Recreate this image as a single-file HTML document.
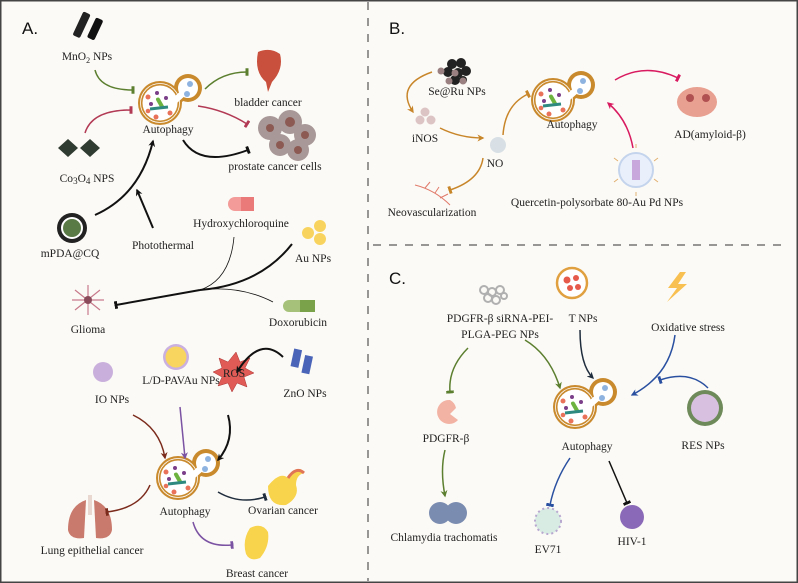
<!DOCTYPE html>
<html><head><meta charset="utf-8"><style>
html,body{margin:0;padding:0;background:#fcfaf6}
svg{display:block}
text{font-family:"Liberation Serif",serif;font-size:11.5px;fill:#222}
.lab{font-family:"Liberation Sans",sans-serif;font-size:17px;fill:#111}
</style></head><body>
<svg width="798" height="583" viewBox="0 0 798 583" xmlns="http://www.w3.org/2000/svg">
<defs>
<marker id="aK" viewBox="0 0 10 10" refX="8" refY="5" markerWidth="7" markerHeight="7" orient="auto" markerUnits="userSpaceOnUse"><path d="M0,0L10,5L0,10L3,5z" fill="#111"/></marker>
<marker id="aG" viewBox="0 0 10 10" refX="8" refY="5" markerWidth="7" markerHeight="7" orient="auto" markerUnits="userSpaceOnUse"><path d="M0,0L10,5L0,10L3,5z" fill="#5b7f2f"/></marker>
<marker id="aBr" viewBox="0 0 10 10" refX="8" refY="5" markerWidth="7" markerHeight="7" orient="auto" markerUnits="userSpaceOnUse"><path d="M0,0L10,5L0,10L3,5z" fill="#7b2b1c"/></marker>
<marker id="aP" viewBox="0 0 10 10" refX="8" refY="5" markerWidth="7" markerHeight="7" orient="auto" markerUnits="userSpaceOnUse"><path d="M0,0L10,5L0,10L3,5z" fill="#7b53a3"/></marker>
<marker id="aO" viewBox="0 0 10 10" refX="8" refY="5" markerWidth="7" markerHeight="7" orient="auto" markerUnits="userSpaceOnUse"><path d="M0,0L10,5L0,10L3,5z" fill="#c8862a"/></marker>
<marker id="aR" viewBox="0 0 10 10" refX="8" refY="5" markerWidth="7" markerHeight="7" orient="auto" markerUnits="userSpaceOnUse"><path d="M0,0L10,5L0,10L3,5z" fill="#d81b60"/></marker>
<marker id="aB" viewBox="0 0 10 10" refX="8" refY="5" markerWidth="7" markerHeight="7" orient="auto" markerUnits="userSpaceOnUse"><path d="M0,0L10,5L0,10L3,5z" fill="#2950a0"/></marker>
<marker id="aN" viewBox="0 0 10 10" refX="8" refY="5" markerWidth="7" markerHeight="7" orient="auto" markerUnits="userSpaceOnUse"><path d="M0,0L10,5L0,10L3,5z" fill="#1f2d3d"/></marker>
<marker id="tK" viewBox="0 0 4 10" refX="2" refY="5" markerWidth="3" markerHeight="9" orient="auto" markerUnits="userSpaceOnUse"><rect x="0" y="0" width="4" height="10" fill="#111"/></marker>
<marker id="tG" viewBox="0 0 4 10" refX="2" refY="5" markerWidth="3" markerHeight="9" orient="auto" markerUnits="userSpaceOnUse"><rect x="0" y="0" width="4" height="10" fill="#5b7f2f"/></marker>
<marker id="tRd" viewBox="0 0 4 10" refX="2" refY="5" markerWidth="3" markerHeight="9" orient="auto" markerUnits="userSpaceOnUse"><rect x="0" y="0" width="4" height="10" fill="#b23a55"/></marker>
<marker id="tBr" viewBox="0 0 4 10" refX="2" refY="5" markerWidth="3" markerHeight="9" orient="auto" markerUnits="userSpaceOnUse"><rect x="0" y="0" width="4" height="10" fill="#7b2b1c"/></marker>
<marker id="tP" viewBox="0 0 4 10" refX="2" refY="5" markerWidth="3" markerHeight="9" orient="auto" markerUnits="userSpaceOnUse"><rect x="0" y="0" width="4" height="10" fill="#7b53a3"/></marker>
<marker id="tN" viewBox="0 0 4 10" refX="2" refY="5" markerWidth="3" markerHeight="9" orient="auto" markerUnits="userSpaceOnUse"><rect x="0" y="0" width="4" height="10" fill="#1f2d3d"/></marker>
<marker id="tO" viewBox="0 0 4 10" refX="2" refY="5" markerWidth="3" markerHeight="9" orient="auto" markerUnits="userSpaceOnUse"><rect x="0" y="0" width="4" height="10" fill="#c8862a"/></marker>
<marker id="tR" viewBox="0 0 4 10" refX="2" refY="5" markerWidth="3" markerHeight="9" orient="auto" markerUnits="userSpaceOnUse"><rect x="0" y="0" width="4" height="10" fill="#d81b60"/></marker>
<marker id="tB" viewBox="0 0 4 10" refX="2" refY="5" markerWidth="3" markerHeight="9" orient="auto" markerUnits="userSpaceOnUse"><rect x="0" y="0" width="4" height="10" fill="#2950a0"/></marker>
<g id="ap">
  <circle cx="0" cy="0" r="22" fill="#c98a2e"/>
  <circle cx="28" cy="-15" r="14" fill="#c98a2e"/>
  <path d="M12,-8 L22,-18 L28,-6 L16,4z" fill="#c98a2e"/>
  <circle cx="0" cy="0" r="17.5" fill="#fff"/>
  <circle cx="28" cy="-15" r="10" fill="#fff"/>
  <path d="M14,-6 L24,-15 L27,-9 L17,0z" fill="#fff"/>
  <circle cx="0" cy="0" r="19.5" fill="none" stroke="#fff" stroke-width="0.8"/>
  <circle cx="-12" cy="-6" r="2.5" fill="#e8735a"/><circle cx="-4" cy="14" r="2.5" fill="#e8735a"/><circle cx="10" cy="10" r="2.5" fill="#e8735a"/><circle cx="-12" cy="8" r="2.3" fill="#e8735a"/>
  <circle cx="-3" cy="-10" r="2" fill="#7b3f8a"/><circle cx="6" cy="-5" r="2" fill="#7b3f8a"/><circle cx="-9" cy="1" r="2" fill="#7b3f8a"/>
  <rect x="-2" y="-6" width="4" height="12" rx="2" fill="#6db33f" transform="rotate(-30)"/>
  <path d="M-10,6 L8,4" stroke="#2e8a80" stroke-width="3"/>
  <circle cx="30" cy="-19" r="3" fill="#8fb3e0"/><circle cx="27" cy="-9" r="3" fill="#8fb3e0"/>
</g>
</defs>
<rect x="0.75" y="0.75" width="796.5" height="581.5" fill="#fcfaf6" stroke="#444" stroke-width="1.5"/>
<line x1="368" y1="2" x2="368" y2="581" stroke="#333" stroke-width="1" stroke-dasharray="8,8"/>
<line x1="373" y1="245" x2="785" y2="245" stroke="#333" stroke-width="1" stroke-dasharray="8,8"/>

<!-- A -->
<text x="22" y="34" class="lab">A.</text>
<g transform="translate(88,30) rotate(25)"><rect x="-12" y="-15" width="8" height="26" rx="2" fill="#222"/><rect x="2" y="-15" width="8" height="22" rx="2" fill="#111"/></g>
<text x="87" y="60" text-anchor="middle">MnO<tspan font-size="8" dy="3">2</tspan><tspan dy="-3"> NPs</tspan></text>
<use href="#ap" x="160" y="103"/>
<text x="168" y="133" text-anchor="middle">Autophagy</text>
<path d="M258,52 q12,-5 22,2 q4,15 -8,28 l-4,10 l-2,-10 q-12,-10 -8,-30z" fill="#c8503c"/>
<text x="268" y="106" text-anchor="middle">bladder cancer</text>
<g fill="#a89898"><circle cx="270" cy="128" r="12"/><circle cx="290" cy="122" r="12"/><circle cx="305" cy="135" r="11"/><circle cx="280" cy="145" r="11"/><circle cx="298" cy="150" r="11"/></g>
<g fill="#8c5a52"><circle cx="270" cy="128" r="4"/><circle cx="290" cy="122" r="5"/><circle cx="305" cy="135" r="4"/><circle cx="280" cy="145" r="4"/><circle cx="298" cy="150" r="4"/></g>
<text x="275" y="170" text-anchor="middle">prostate cancer cells</text>
<path d="M58,148 l10,-9 l10,9 l-10,9z M80,148 l10,-9 l10,9 l-10,9z" fill="#2f3a30"/>
<text x="87" y="182" text-anchor="middle">Co<tspan font-size="9" dy="2">3</tspan><tspan dy="-2">O</tspan><tspan font-size="9" dy="2">4</tspan><tspan dy="-2"> NPS</tspan></text>
<circle cx="72" cy="228" r="15" fill="#222"/><circle cx="72" cy="228" r="11" fill="#fff"/><circle cx="72" cy="228" r="9" fill="#5a7a45"/>
<text x="70" y="257" text-anchor="middle">mPDA@CQ</text>
<text x="163" y="249" text-anchor="middle" font-size="12.5">Photothermal</text>
<rect x="228" y="197" width="26" height="14" rx="7" fill="#f39b98"/><rect x="241" y="197" width="13" height="14" rx="0" fill="#ea7a7a"/>
<text x="241" y="227" text-anchor="middle">Hydroxychloroquine</text>
<g fill="#f8d45f"><circle cx="308" cy="233" r="6"/><circle cx="320" cy="226" r="6"/><circle cx="320" cy="239" r="6"/></g>
<text x="313" y="262" text-anchor="middle">Au NPs</text>
<g stroke="#c77a8c" stroke-width="1.2" fill="none"><path d="M75,290 l25,20 M100,290 l-25,20 M88,285 v30 M72,300 h32"/></g><circle cx="88" cy="300" r="4" fill="#8a4a5a"/>
<text x="88" y="333" text-anchor="middle">Glioma</text>
<rect x="283" y="300" width="32" height="12" rx="6" fill="#a6c27a"/><rect x="300" y="300" width="15" height="12" fill="#7aa24a"/>
<text x="298" y="326" text-anchor="middle">Doxorubicin</text>
<circle cx="176" cy="357" r="13" fill="#c9b0e0"/><circle cx="176" cy="357" r="10.5" fill="#f8d55e"/>
<text x="181" y="384" text-anchor="middle">L/D-PAVAu NPs</text>
<circle cx="103" cy="372" r="10" fill="#c9b0dc"/>
<text x="112" y="403" text-anchor="middle">IO NPs</text>
<polygon points="236,352 240,362 250,358 245,368 254,373 244,377 247,387 237,383 232,392 228,383 218,386 222,377 213,372 222,368 219,358 228,362" fill="#e05b55" stroke="#a33" stroke-width="0.5"/>
<text x="234" y="377" text-anchor="middle">ROS</text>
<g transform="translate(300,360)"><rect x="-8" y="-10" width="8" height="18" fill="#4a65b8" transform="rotate(12)"/><rect x="4" y="-6" width="8" height="18" fill="#4a65b8" transform="rotate(12)"/></g>
<text x="305" y="397" text-anchor="middle">ZnO NPs</text>
<use href="#ap" x="178" y="478"/>
<text x="185" y="515" text-anchor="middle">Autophagy</text>
<path d="M268,486 q12,-15 20,-8 q12,-15 16,-5 q-8,2 -8,12 q4,12 -10,20 q-18,2 -18,-19z" fill="#f8d34c"/><path d="M288,478 q8,-12 16,-5" stroke="#e07555" stroke-width="3" fill="none"/>
<text x="283" y="514" text-anchor="middle">Ovarian cancer</text>
<g fill="#c97a6c"><path d="M86,500 q-18,6 -18,30 q2,10 16,8z"/><path d="M94,500 q18,6 18,30 q-2,10 -16,8z"/></g><rect x="88" y="495" width="4" height="20" fill="#e8d8d0"/>
<text x="92" y="554" text-anchor="middle">Lung epithelial cancer</text>
<path d="M250,528 q12,-6 18,4 q2,14 -8,26 q-10,4 -14,-4 q-4,-14 4,-26z" fill="#f8d34c"/>
<text x="257" y="577" text-anchor="middle">Breast cancer</text>

<g fill="none" stroke-width="1.5">
<path d="M95,70 Q100,90 133,90" stroke="#5b7f2f" marker-end="url(#tG)"/>
<path d="M85,133 Q92,110 131,110" stroke="#b23a55" marker-end="url(#tRd)"/>
<path d="M205,89 Q222,72 247,72" stroke="#5b7f2f" marker-end="url(#tG)"/>
<path d="M198,106 Q225,110 247,124" stroke="#b23a55" marker-end="url(#tRd)"/>
<path d="M183,140 Q200,168 248,150" stroke="#111" stroke-width="2" marker-end="url(#tK)"/>
<path d="M95,215 Q140,195 153,141" stroke="#111" stroke-width="2" marker-end="url(#aK)"/>
<path d="M153,228 L137,190" stroke="#111" stroke-width="2" marker-end="url(#aK)"/>
<path d="M234,237 Q230,280 200,290" stroke="#111" stroke-width="0.8"/>
<path d="M292,244 Q260,285 200,290" stroke="#111" stroke-width="2"/>
<path d="M273,302 Q240,285 200,290" stroke="#111" stroke-width="0.8"/>
<path d="M200,290 L116,305" stroke="#111" stroke-width="2" marker-end="url(#tK)"/>
<path d="M283,357 Q260,335 237,372" stroke="#111" stroke-width="2" marker-end="url(#aK)"/>
<path d="M228,415 Q235,440 218,460" stroke="#111" stroke-width="2" marker-end="url(#aK)"/>
<path d="M133,415 Q160,428 165,458" stroke="#7b2b1c" marker-end="url(#aBr)"/>
<path d="M180,407 L185,458" stroke="#7b53a3" marker-end="url(#aP)"/>
<path d="M150,485 Q140,508 107,512" stroke="#7b2b1c" marker-end="url(#tBr)"/>
<path d="M218,492 Q240,505 265,497" stroke="#1f2d3d" marker-end="url(#tN)"/>
<path d="M193,522 Q200,548 232,545" stroke="#7b53a3" marker-end="url(#tP)"/>
</g>

<!-- B -->
<text x="389" y="34" class="lab">B.</text>
<g fill="#222"><circle cx="452" cy="64" r="5"/><circle cx="461" cy="63" r="5"/><circle cx="448" cy="72" r="5"/><circle cx="458" cy="73" r="5"/><circle cx="466" cy="71" r="5"/><circle cx="455" cy="80" r="5"/><circle cx="463" cy="80" r="4"/></g>
<g fill="#9a8080"><circle cx="441" cy="71" r="3.5"/><circle cx="455" cy="73" r="3.5"/><circle cx="463" cy="81" r="3.5"/><circle cx="449" cy="81" r="3.5"/></g>
<text x="457" y="95" text-anchor="middle">Se@Ru NPs</text>
<g fill="#dcc4c4"><circle cx="425" cy="112" r="4.5"/><circle cx="420" cy="120" r="4.5"/><circle cx="431" cy="120" r="4.5"/></g>
<text x="425" y="142" text-anchor="middle">iNOS</text>
<circle cx="498" cy="145" r="8" fill="#d8e0e6"/>
<text x="495" y="167" text-anchor="middle">NO</text>
<g stroke="#e07a6a" stroke-width="1" fill="none"><path d="M415,185 q20,5 35,20 M425,188 l5,-6 M435,193 l4,-6 M440,198 l8,-4"/></g>
<text x="432" y="216" text-anchor="middle">Neovascularization</text>
<use href="#ap" x="553" y="100"/>
<text x="572" y="128" text-anchor="middle">Autophagy</text>
<ellipse cx="697" cy="102" rx="20" ry="15" fill="#e8a090"/><circle cx="690" cy="98" r="4" fill="#b05050"/><circle cx="706" cy="98" r="4" fill="#b05050"/>
<text x="710" y="138" text-anchor="middle">AD(amyloid-β)</text>
<circle cx="636" cy="170" r="17" fill="#eaf0fb" stroke="#c4d4ec" stroke-width="2"/><rect x="632" y="160" width="8" height="20" fill="#c8a8dc"/>
<g stroke="#e0b070" stroke-width="1"><path d="M614,158 l4,3 M658,158 l-4,3 M614,182 l4,-3 M658,182 l-4,-3 M636,148 v-4 M636,192 v4"/></g>
<text x="597" y="206" text-anchor="middle">Quercetin-polysorbate 80-Au Pd NPs</text>
<g fill="none" stroke-width="1.5">
<path d="M432,72 Q395,85 413,112" stroke="#c8862a" marker-end="url(#aO)"/>
<path d="M440,128 Q460,138 483,138" stroke="#c8862a" marker-end="url(#aO)"/>
<path d="M503,135 Q505,105 528,94" stroke="#c8862a" marker-end="url(#tO)"/>
<path d="M483,158 Q480,180 450,190" stroke="#c8862a" marker-end="url(#tO)"/>
<path d="M615,80 Q645,62 678,78" stroke="#d81b60" marker-end="url(#tR)"/>
<path d="M633,148 Q628,120 608,103" stroke="#d81b60" marker-end="url(#aR)"/>
</g>

<!-- C -->
<text x="389" y="284" class="lab">C.</text>
<g stroke="#b0b0b0" stroke-width="2" fill="none"><circle cx="484" cy="290" r="4"/><circle cx="492" cy="292" r="4"/><circle cx="500" cy="290" r="4"/><circle cx="488" cy="298" r="4"/><circle cx="496" cy="300" r="4"/><circle cx="504" cy="296" r="3"/></g>
<text x="500" y="322" text-anchor="middle" font-size="11">PDGFR-β siRNA-PEI-</text>
<text x="500" y="338" text-anchor="middle" font-size="11">PLGA-PEG NPs</text>
<circle cx="572" cy="283" r="15" fill="#fff" stroke="#e0a040" stroke-width="2.5"/><g fill="#e55a4a"><circle cx="567" cy="280" r="3.5"/><circle cx="576" cy="278" r="3"/><circle cx="570" cy="288" r="3"/><circle cx="578" cy="287" r="3"/></g>
<text x="583" y="322" text-anchor="middle">T NPs</text>
<path d="M680,272 l-12,16 h9 l-10,14 l20,-18 h-9 l8,-12z" fill="#f8c050"/>
<text x="688" y="331" text-anchor="middle">Oxidative stress</text>
<use href="#ap" x="575" y="407"/>
<text x="587" y="450" text-anchor="middle">Autophagy</text>
<circle cx="705" cy="408" r="18" fill="#6e8a5a"/><circle cx="705" cy="408" r="14" fill="#d8c0e0"/>
<text x="703" y="449" text-anchor="middle">RES NPs</text>
<path d="M450,400 a12,12 0 1 0 8,20 l-8,-6 l6,-6 a12,12 0 0 0 -6,-8z" fill="#f2b3a4"/>
<text x="446" y="442" text-anchor="middle">PDGFR-β</text>
<circle cx="440" cy="513" r="11" fill="#7a8cb0"/><circle cx="456" cy="513" r="11" fill="#7a8cb0"/>
<text x="444" y="541" text-anchor="middle">Chlamydia trachomatis</text>
<circle cx="548" cy="521" r="13" fill="#d8ece4" stroke="#b8a8d0" stroke-width="2" stroke-dasharray="2,3"/>
<text x="548" y="553" text-anchor="middle">EV71</text>
<circle cx="632" cy="517" r="12" fill="#8a6ab8"/>
<text x="632" y="545" text-anchor="middle">HIV-1</text>
<g fill="none" stroke-width="1.5">
<path d="M468,348 Q448,368 450,392" stroke="#5b7f2f" marker-end="url(#tG)"/>
<path d="M445,450 Q440,470 445,496" stroke="#5b7f2f" marker-end="url(#aG)"/>
<path d="M525,340 Q550,355 560,388" stroke="#5b7f2f" marker-end="url(#aG)"/>
<path d="M580,330 Q580,365 593,378" stroke="#1f2d3d" marker-end="url(#aN)"/>
<path d="M675,335 Q670,375 632,395" stroke="#2950a0" marker-end="url(#aB)"/>
<path d="M708,388 Q690,370 660,380" stroke="#2950a0" marker-end="url(#tB)"/>
<path d="M570,458 Q555,480 550,505" stroke="#2950a0" marker-end="url(#tB)"/>
<path d="M609,461 L627,503" stroke="#111" marker-end="url(#tK)"/>
</g>
</svg>
</body></html>
